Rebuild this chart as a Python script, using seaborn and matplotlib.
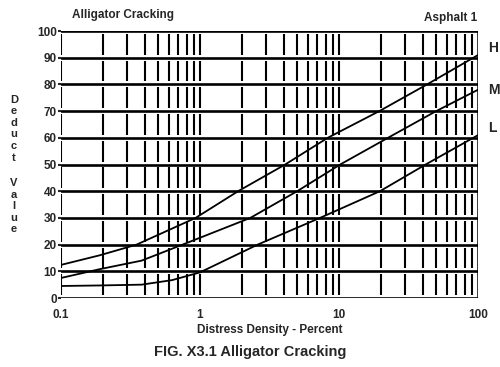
import numpy as np
import pandas as pd
import matplotlib
matplotlib.use("Agg")
import matplotlib.pyplot as plt
import seaborn as sns

# Deduct value curves for alligator cracking, by severity level
h_density = [0.1, 0.19, 0.35, 0.93, 1.88, 4.1, 8.3, 19.5, 43, 100]
h_deduct = [12.4, 16.0, 20.0, 30.0, 40.0, 50.0, 60.0, 70.0, 80.0, 91.0]

m_density = [0.1, 0.19, 0.38, 0.75, 2.3, 5.0, 10.2, 22.5, 50, 100]
m_deduct = [7.5, 10.8, 14.0, 20.0, 30.0, 40.0, 50.0, 60.0, 70.0, 78.0]

l_density = [0.1, 0.19, 0.38, 0.63, 1.0, 2.6, 7.3, 19.7, 42, 100]
l_deduct = [4.5, 4.7, 5.0, 6.7, 9.6, 20.0, 30.0, 40.0, 50.0, 61.0]

severity = ["H", "M", "L"]
y_ticks = [0, 10, 20, 30, 40, 50, 60, 70, 80, 90, 100]
x_ticks = [0.1, 1, 10, 100]
x_tick_labels = ["0.1", "1", "10", "100"]

df = pd.concat([
    pd.DataFrame({"density": d, "deduct": v, "severity": s})
    for d, v, s in zip([h_density, m_density, l_density],
                       [h_deduct, m_deduct, l_deduct], severity)
], ignore_index=True)

sns.set_style("white")
plt.rcParams["font.family"] = ["Liberation Sans", "DejaVu Sans"]
plt.rcParams["font.weight"] = "bold"

fig = plt.figure(figsize=(5.0, 3.67), dpi=100)
ax = fig.add_axes([0.122, 0.188, 0.834, 0.7275])

ax.set_xscale("log")
ax.set_xlim(0.1, 100)
ax.set_ylim(0, 100)

# vertical rulings at every log position, broken at each horizontal ruling
rule_x = [d * k for d in (0.1, 1, 10) for k in range(1, 10)]
inset = 1.1
for lo, hi in zip(y_ticks[:-1], y_ticks[1:]):
    ax.vlines(rule_x, lo + inset, hi - inset, color="black", lw=1.5, zorder=1)
ax.axvline(100, color="black", lw=1.8, zorder=2)

# heavy horizontal rulings
for yv in y_ticks:
    ax.axhline(yv, color="black", lw=1.9, zorder=2)

sns.lineplot(data=df, x="density", y="deduct", hue="severity",
             palette=["black"] * 3, legend=False, lw=1.3, ax=ax, zorder=3,
             estimator=None, sort=True)

for s, v in zip(severity, [93.5, 78.0, 63.5]):
    ax.text(118, v, s, fontsize=10, fontweight="bold", ha="left", va="center",
            clip_on=False)

for sp in ax.spines.values():
    sp.set_visible(False)

ax.set_yticks(y_ticks)
ax.set_yticklabels([str(v) for v in y_ticks], fontsize=8.5, fontweight="bold")
ax.set_xticks(x_ticks)
ax.set_xticklabels(x_tick_labels, fontsize=8.5, fontweight="bold")
ax.xaxis.set_minor_locator(matplotlib.ticker.NullLocator())
ax.tick_params(axis="y", length=2, width=1.5, pad=1, left=True)
ax.tick_params(axis="x", length=0, pad=8)

ax.set_xlabel("Distress Density - Percent", fontsize=8.5, fontweight="bold",
              labelpad=2)
ax.set_ylabel("")

fig.text(0.144, 0.958, "Alligator Cracking", fontsize=8.5, fontweight="bold",
         ha="left", va="center")
fig.text(0.955, 0.952, "Asphalt 1", fontsize=8.5, fontweight="bold",
         ha="right", va="center")
fig.text(0.028, 0.742, "\n".join("Deduct"), fontsize=8, fontweight="bold",
         ha="center", va="top", linespacing=1.2)
fig.text(0.028, 0.515, "\n".join("Value"), fontsize=8, fontweight="bold",
         ha="center", va="top", linespacing=1.2)
fig.text(0.5, 0.04, "FIG. X3.1 Alligator Cracking", fontsize=10.5,
         fontweight="bold", ha="center", va="center")

fig.savefig("out.png", dpi=100)
